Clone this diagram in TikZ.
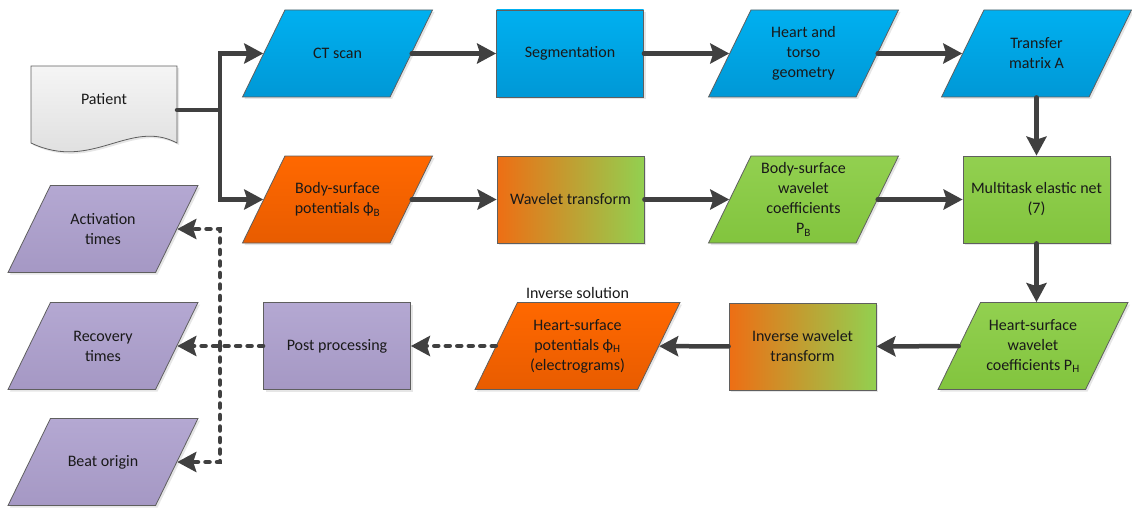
\documentclass[tikz,border=0pt]{standalone}
\usepackage{fontspec}
\setmainfont{Carlito}
\usetikzlibrary{shapes.geometric}
\usetikzlibrary{arrows.meta}
\usetikzlibrary{shadows}
\definecolor{cblue}{RGB}{0,176,240}
\definecolor{cbluedark}{RGB}{0,152,214}
\definecolor{corange}{RGB}{255,104,0}
\definecolor{corangedark}{RGB}{232,92,0}
\definecolor{cgreen}{RGB}{146,208,80}
\definecolor{cgreendark}{RGB}{130,196,62}
\definecolor{cpurple}{RGB}{180,168,210}
\definecolor{cpurpledark}{RGB}{165,152,196}
\definecolor{cgrad}{RGB}{238,110,20}
\definecolor{cline}{RGB}{64,64,64}
\definecolor{cedge}{RGB}{95,95,95}

\begin{document}
\begin{tikzpicture}[x=1pt, y=-1pt,
  every node/.style={font=\fontsize{16}{20}\selectfont, text=black!90, align=center},
  box/.style={draw=cedge, line width=0.8pt,
    drop shadow={opacity=0.2, shadow xshift=2pt, shadow yshift=-2pt}},
  rectbox/.style={box, rectangle, minimum width=147pt, minimum height=87pt, inner sep=2pt},
  para/.style={box, trapezium, trapezium left angle=64, trapezium right angle=116,
    trapezium stretches body, inner xsep=0pt, inner ysep=2pt,
    text height=41.5pt, text depth=41.5pt, minimum width=190pt,
    label={center:{#1}}},
  bluefill/.style={top color=cblue, bottom color=cbluedark},
  orangefill/.style={top color=corange, bottom color=corangedark},
  greenfill/.style={top color=cgreen, bottom color=cgreendark},
  purplefill/.style={top color=cpurple, bottom color=cpurpledark},
  gradfill/.style={left color=cgrad, right color=cgreen},
  conn/.style={draw=cline, line width=4.5pt, line cap=round,
    -{Stealth[length=19pt, width=20pt, inset=3pt]}},
  dashconn/.style={conn, dash pattern=on 4pt off 7.5pt}]
  \useasboundingbox (0,0) rectangle (1132,508);

  % patient document
  \draw [draw=cedge, line width=0.8pt, top color=black!4, bottom color=black!14,
    drop shadow={opacity=0.2, shadow xshift=2pt, shadow yshift=-2pt}]
    (31,66) -- (177,66) -- (177,143)
    .. controls (130,118) and (92,172) .. (31,143) -- cycle;
  \node (patient) at (104,99) {Patient};
  \coordinate (patient-out) at (177,110);
  \coordinate (fork) at (220,110);

  % top row
  \node [para={CT scan}, bluefill] (ct) at (337.5,53.5) {};
  \node [rectbox, bluefill] (seg) at (570,53.5) {Segmentation};
  \node [para={Heart and\\torso\\geometry}, bluefill] (geom) at (803.5,53.5) {};
  \node [para={Transfer\\matrix A}, bluefill] (transfer) at (1036.5,53.5) {};

  % middle row
  \node [para={Body-surface\\potentials ϕ\textsubscript{B}}, orangefill] (bsp) at (337.5,199.5) {};
  \node [rectbox, gradfill] (wt) at (570.5,199.5) {Wavelet transform};
  \node [para={Body-surface\\wavelet\\coefficients\\P\textsubscript{B}}, greenfill] (bswc) at (803.5,199.5) {};
  \node [rectbox, greenfill] (mten) at (1036.5,199.5) {Multitask elastic net\\(7)};

  % bottom row
  \node [para={Heart-surface\\wavelet\\coefficients P\textsubscript{H}}, greenfill] (hswc) at (1033,346) {};
  \node [rectbox, gradfill] (iwt) at (802.5,346.5) {Inverse wavelet\\transform};
  \node [para={Heart-surface\\potentials ϕ\textsubscript{H}\\(electrograms)}, orangefill, minimum width=205pt] (hsp) at (577.5,346) {};
  \node [above, inner sep=3pt] (invsol) at (hsp.north) {Inverse solution};
  \node [rectbox, purplefill] (pp) at (337,346) {Post processing};

  % outputs
  \node [para={Activation\\times}, purplefill] (act) at (103,229) {};
  \node [para={Recovery\\times}, purplefill] (rec) at (103,346) {};
  \node [para={Beat origin}, purplefill] (beat) at (103,462) {};
  \coordinate (split) at (220,346);

  \draw [conn] (patient-out) -- (fork) |- (ct);
  \draw [conn] (fork) |- (bsp);
  \draw [conn] (ct) -- (seg);
  \draw [conn] (seg) -- (geom);
  \draw [conn] (geom) -- (transfer);
  \draw [conn] (transfer) -- (mten);
  \draw [conn] (bsp) -- (wt);
  \draw [conn] (wt) -- (bswc);
  \draw [conn] (bswc) -- (mten);
  \draw [conn] (mten) -- (mten |- hswc.north);
  \draw [conn] (hswc) -- (iwt);
  \draw [conn] (iwt) -- (hsp);
  \draw [dashconn] (hsp) -- (pp);
  \draw [dashconn] (pp) -- (rec);
  \draw [dashconn] (split) |- (act);
  \draw [dashconn] (split) |- (beat);
\end{tikzpicture}
\end{document}
